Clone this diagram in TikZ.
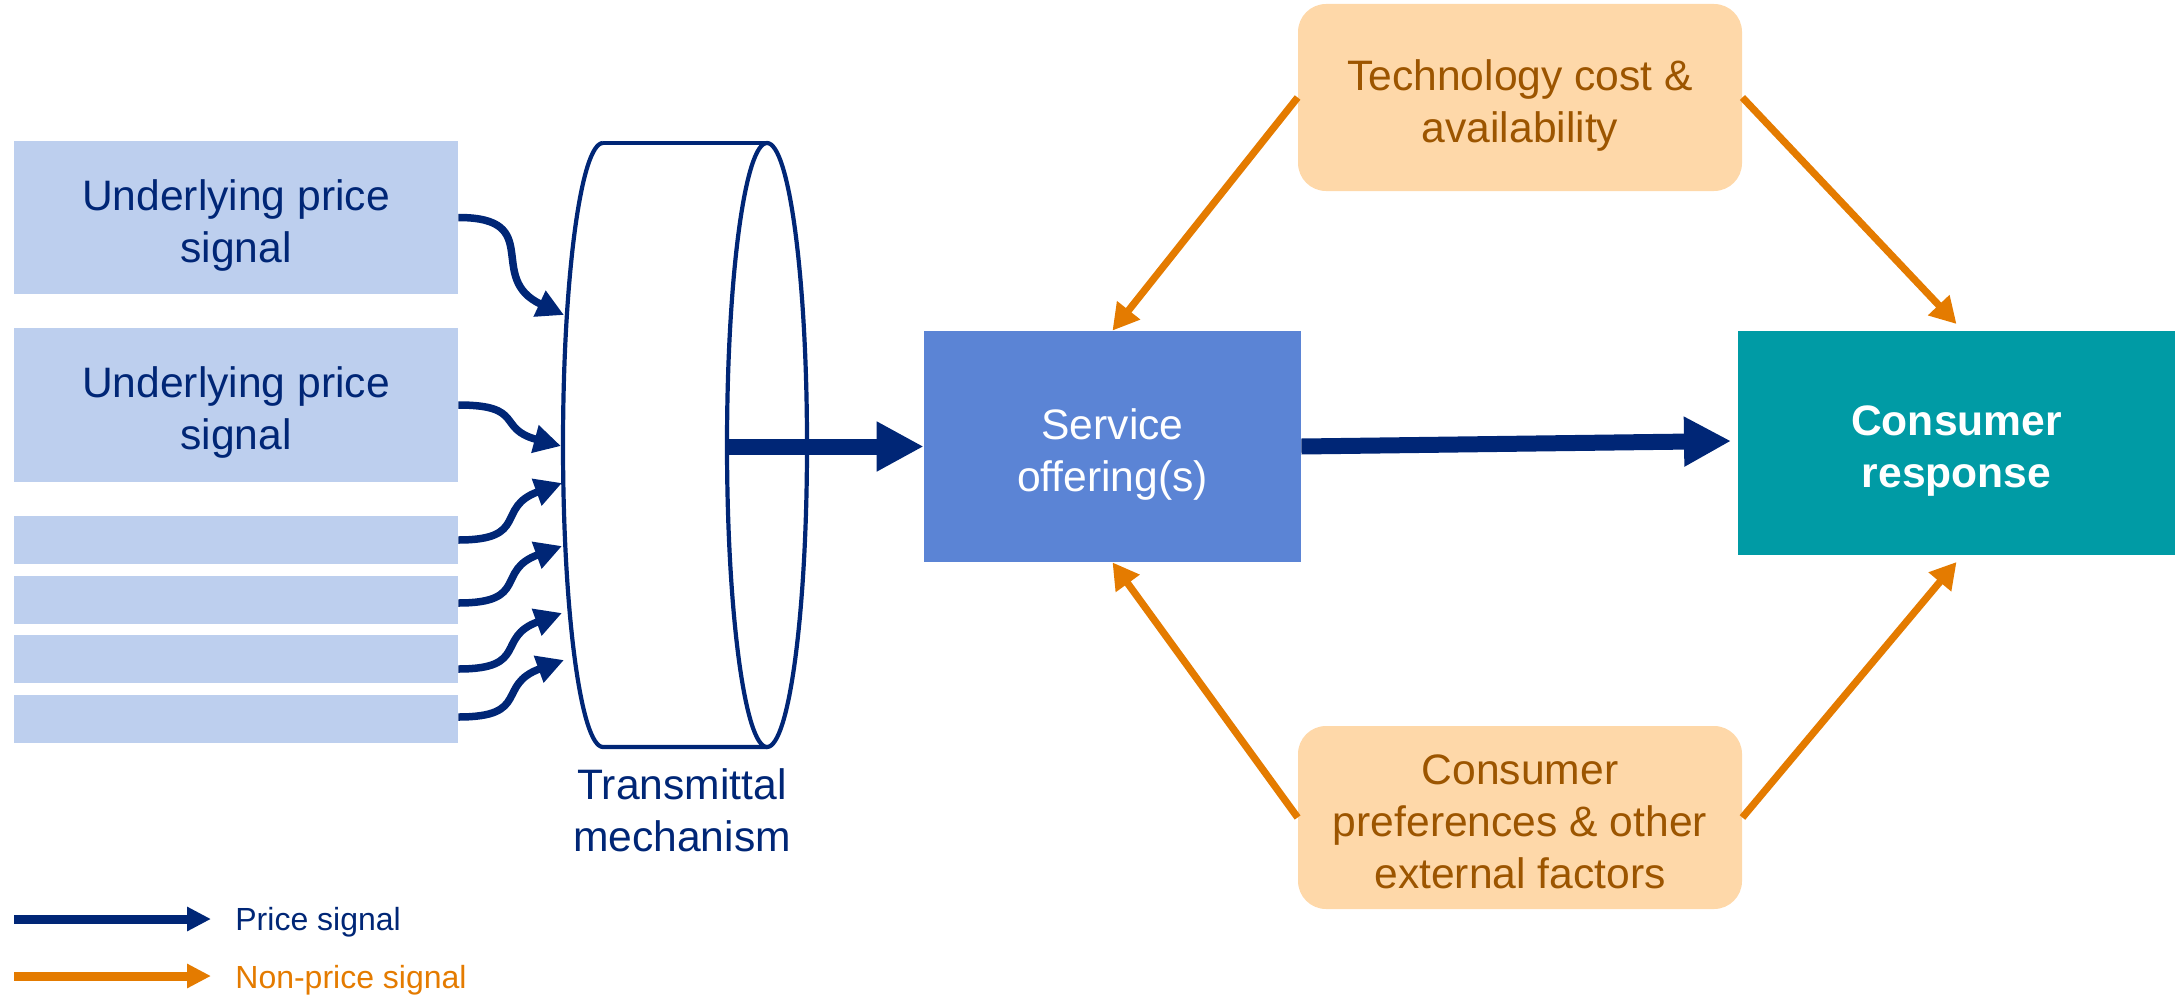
\documentclass[tikz,border=0pt]{standalone}
\usepackage{fontspec}
\setmainfont{Liberation Sans}
\usetikzlibrary{arrows.meta,shadows}

\definecolor{navy}{HTML}{002676}
\definecolor{orng}{HTML}{E47B00}
\definecolor{signalbox}{HTML}{BDCFEE}
\definecolor{servicebox}{HTML}{5B84D5}
\definecolor{responsebox}{HTML}{009BA5}
\definecolor{factorbox}{HTML}{FED8A9}
\definecolor{factortext}{HTML}{9C5500}

% extra room above the first line, so box texts sit a little low
\newcommand{\lowtext}[1][23pt]{\rule{0pt}{#1}}

\tikzset{
  maintext/.style={font=\fontsize{21.3pt}{26pt}\selectfont, align=center},
  legendtext/.style={font=\fontsize{16pt}{19pt}\selectfont},
  signal/.style={maintext, fill=signalbox, text=navy, minimum width=222pt, inner sep=0pt},
  factor/.style={maintext, fill=factorbox, text=factortext, rounded corners=14pt,
                 minimum width=222pt, inner sep=0pt},
  cyl/.style={draw=navy, line width=2.1pt},
  pricearrow/.style={draw=navy, line width=8pt, -{Triangle[length=23.5pt,width=23.5pt]}},
  feedarrow/.style={draw=navy, line width=3.75pt, -{Triangle[length=13.5pt,width=13.5pt]},
                    looseness=1.55},
  nonprice/.style={draw=orng, line width=3.6pt, -{Triangle[length=13pt,width=14pt]}},
  legendprice/.style={draw=navy, line width=4.5pt, -{Triangle[length=12pt,width=11.5pt]}},
  legendnon/.style={draw=orng, line width=4.5pt, -{Triangle[length=12pt,width=11.5pt]}},
}

\begin{document}
\begin{tikzpicture}[x=0.5pt,y=0.5pt]
\useasboundingbox (0,0) rectangle (2182,-995);

% underlying price signals
\node[signal, minimum height=76.5pt] (s1) at (236,-217.5) {\lowtext Underlying price\\signal};
\node[signal, minimum height=77pt]   (s2) at (236,-405)   {\lowtext Underlying price\\signal};
\node[signal, minimum height=24pt]   (s3) at (236,-540)   {};
\node[signal, minimum height=24pt]   (s4) at (236,-600)   {};
\node[signal, minimum height=24pt]   (s5) at (236,-659)   {};
\node[signal, minimum height=24pt]   (s6) at (236,-719)   {};

% transmittal mechanism (cylinder)
\draw[cyl] (603,-143) arc[start angle=90, end angle=270, x radius=40, y radius=302]
           -- (767,-747);
\draw[cyl] (603,-143) -- (767,-143);
\draw[cyl, fill=white] (767,-445) ellipse[x radius=40, y radius=302];
\node[maintext, text=navy] (tm) at (682,-810) {Transmittal\\mechanism};

% entry points on the cylinder
\coordinate (t1) at (564,-315);
\coordinate (t2) at (561,-446);
\coordinate (t3) at (562,-483);
\coordinate (t4) at (562,-546);
\coordinate (t5) at (562,-613);
\coordinate (t6) at (564,-660);
\coordinate (cylout) at (727,-446.5);

\draw[feedarrow] (s1.east) to[out=0, in=155] (t1);
\draw[feedarrow] (s2.east) to[out=0, in=165] (t2);
\draw[feedarrow] (s3.east) to[out=0, in=200] (t3);
\draw[feedarrow] ([yshift=-1.5pt]s4.east) to[out=0, in=200] (t4);
\draw[feedarrow] ([yshift=-5pt]s5.east) to[out=0, in=200] (t5);
\draw[feedarrow] ([yshift=1pt]s6.east) to[out=0, in=200] (t6);

% service offering and consumer response
\node[maintext, fill=servicebox, text=white, minimum width=188.5pt, minimum height=115.5pt,
      inner sep=0pt] (svc) at (1112.5,-446.5) {\lowtext Service\\offering(s)};
\node[maintext, font=\fontsize{21.3pt}{26pt}\selectfont\bfseries, fill=responsebox, text=white,
      draw=white, line width=3.5pt, minimum width=222pt, minimum height=115.5pt, inner sep=0pt,
      drop shadow={shadow xshift=0.6pt, shadow yshift=-1.2pt, opacity=0.25}]
      (resp) at (1956.5,-443) {\lowtext Consumer\\response};

\draw[pricearrow] (cylout) -- (svc.west);
\draw[pricearrow] (svc.east) -- ([yshift=1pt]resp.west);

% external factors
\node[factor, minimum height=93.5pt] (tech) at (1520,-97.5)
      {\lowtext Technology cost \&\\availability};
\node[factor, minimum height=91.5pt] (pref) at (1520,-817.5)
      {\lowtext[19pt]Consumer\\preferences \& other\\external factors};

\draw[nonprice] (tech.west) -- (svc.north);
\draw[nonprice] (tech.east) -- (resp.north);
\draw[nonprice] (pref.west) -- (svc.south);
\draw[nonprice] (pref.east) -- (resp.south);

% legend
\coordinate (lp1) at (14,-919);
\coordinate (lp2) at (211,-919);
\coordinate (ln1) at (14,-976);
\coordinate (ln2) at (211,-976);
\draw[legendprice] (lp1) -- (lp2);
\draw[legendnon] (ln1) -- (ln2);
\node[legendtext, text=navy, anchor=base west, inner sep=0pt] (lpt) at (235,-930) {Price signal};
\node[legendtext, text=orng, anchor=base west, inner sep=0pt] (lnt) at (235,-988) {Non-price signal};
\end{tikzpicture}
\end{document}
